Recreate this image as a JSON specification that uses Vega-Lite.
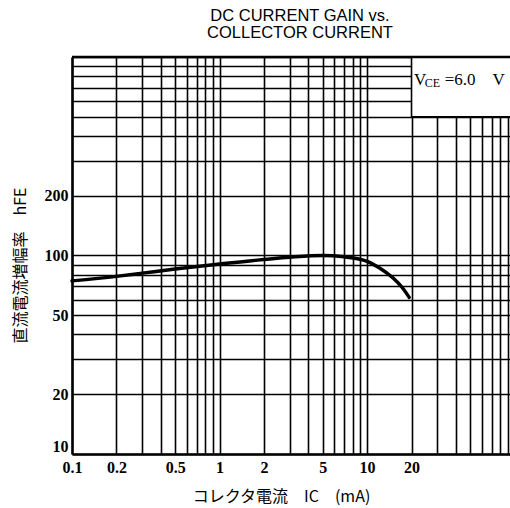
{
  "$schema": "https://vega.github.io/schema/vega-lite/v6.json",
  "width": 438,
  "height": 397,
  "autosize": {"type": "none"},
  "padding": {"left": 72, "top": 57, "right": 0, "bottom": 54},
  "background": "white",
  "title": {
    "text": ["DC CURRENT GAIN vs.", "COLLECTOR CURRENT"],
    "font": "Liberation Sans",
    "fontSize": 16.5,
    "fontWeight": "normal",
    "color": "black",
    "lineHeight": 17,
    "offset": 14,
    "dx": 9
  },
  "config": {
    "view": {"stroke": null},
    "axis": {
      "grid": true,
      "gridColor": "black",
      "gridWidth": 1.6,
      "gridOpacity": 1,
      "domainColor": "black",
      "domainWidth": 2.5,
      "ticks": false,
      "labelFont": "Liberation Serif",
      "labelFontWeight": "bold",
      "labelFontSize": 16,
      "labelColor": "black",
      "labelOverlap": false,
      "titleFont": "Noto Sans CJK JP",
      "titleFontSize": 16,
      "titleFontWeight": "normal",
      "titleColor": "#000000"
    }
  },
  "layer": [
    {
      "data": {
        "values": [
          {"Ic": 0.1, "hFE": 74.5},
          {"Ic": 0.2, "hFE": 78.5},
          {"Ic": 0.3, "hFE": 81.5},
          {"Ic": 0.5, "hFE": 85.5},
          {"Ic": 1, "hFE": 90.5},
          {"Ic": 2, "hFE": 95.5},
          {"Ic": 3, "hFE": 98},
          {"Ic": 5, "hFE": 100},
          {"Ic": 7, "hFE": 98.5},
          {"Ic": 10, "hFE": 93.5},
          {"Ic": 12, "hFE": 87},
          {"Ic": 15, "hFE": 77},
          {"Ic": 17.3, "hFE": 69},
          {"Ic": 19.3, "hFE": 61.5}
        ]
      },
      "mark": {"type": "line", "color": "black", "strokeWidth": 3.5, "interpolate": "monotone", "strokeCap": "round"},
      "encoding": {
        "x": {
          "field": "Ic",
          "type": "quantitative",
          "scale": {"type": "log", "domain": [0.1, 93], "nice": false},
          "axis": {
            "title": "コレクタ電流　IC　(mA)",
            "values": [0.1, 0.2, 0.3, 0.4, 0.5, 0.6, 0.7, 0.8, 0.9, 1, 2, 3, 4, 5, 6, 7, 8, 9, 10, 20, 30, 40, 50, 60, 70, 80, 90],
            "labelExpr": "indexof([0.1, 0.2, 0.5, 1, 2, 5, 10, 20], datum.value) >= 0 ? '' + datum.value : ''",
            "labelFlush": false,
            "labelPadding": 5,
            "titlePadding": 13,
            "titleX": 209
          }
        },
        "y": {
          "field": "hFE",
          "type": "quantitative",
          "scale": {"type": "log", "domain": [10, 1000], "nice": false},
          "axis": {
            "title": "直流電流増幅率　hFE",
            "values": [10, 20, 30, 40, 50, 60, 70, 80, 90, 100, 200, 300, 400, 500, 600, 700, 800, 900, 1000],
            "labelExpr": "indexof([10, 20, 50, 100, 200], datum.value) >= 0 ? '' + datum.value : ''",
            "labelFlush": true,
            "labelPadding": 4,
            "titlePadding": 16,
            "titleY": 208
          }
        }
      }
    },
    {
      "data": {"values": [{}]},
      "mark": {"type": "rect", "fill": "white", "stroke": "black", "strokeWidth": 1.6, "clip": true},
      "encoding": {
        "x": {"datum": 20, "type": "quantitative"},
        "x2": {"datum": 300},
        "y": {"datum": 500, "type": "quantitative"},
        "y2": {"datum": 1000}
      }
    },
    {
      "data": {"values": [{}]},
      "mark": {"type": "text", "text": "V", "font": "Liberation Serif", "fontSize": 17, "align": "left", "baseline": "alphabetic", "color": "black"},
      "encoding": {
        "x": {"datum": 20.8, "type": "quantitative"},
        "y": {"datum": 722, "type": "quantitative"}
      }
    },
    {
      "data": {"values": [{}]},
      "mark": {"type": "text", "text": "CE", "font": "Liberation Serif", "fontSize": 12, "align": "left", "baseline": "alphabetic", "color": "black"},
      "encoding": {
        "x": {"datum": 24.6, "type": "quantitative"},
        "y": {"datum": 705, "type": "quantitative"}
      }
    },
    {
      "data": {"values": [{}]},
      "mark": {"type": "text", "text": "=6.0\u00a0\u00a0\u00a0\u00a0V", "font": "Liberation Serif", "fontSize": 17, "align": "left", "baseline": "alphabetic", "color": "black"},
      "encoding": {
        "x": {"datum": 33.6, "type": "quantitative"},
        "y": {"datum": 722, "type": "quantitative"}
      }
    },
    {
      "data": {"values": [{}]},
      "mark": {"type": "rule", "color": "black", "strokeWidth": 2.5},
      "encoding": {
        "y": {"datum": 1000, "type": "quantitative"}
      }
    }
  ]
}
